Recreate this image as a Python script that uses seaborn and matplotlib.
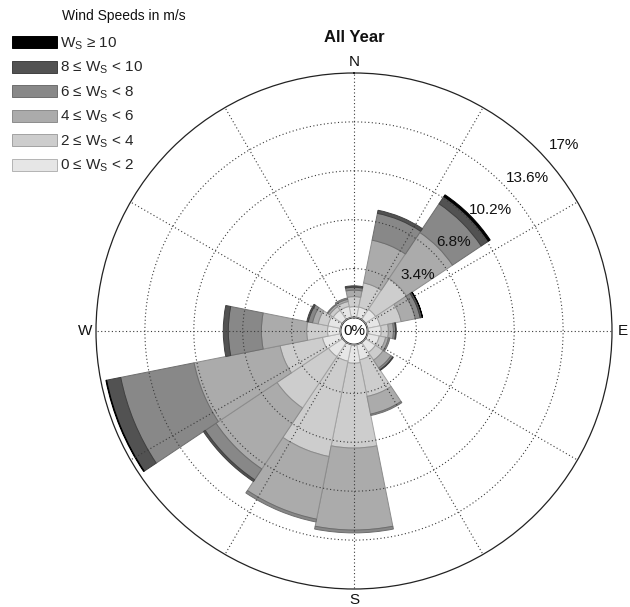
import numpy as np
import matplotlib
matplotlib.use("Agg")
import matplotlib.pyplot as plt
from matplotlib.patches import Patch, Circle
import seaborn as sns

# Sixteen compass sectors, clockwise from north
directions = ["N", "NNE", "NE", "ENE", "E", "ESE", "SE", "SSE",
              "S", "SSW", "SW", "WSW", "W", "WNW", "NW", "NNW"]

# Frequency (% of the year) per sector for each wind-speed class
ws_0_2 = [0.75, 0.76, 0.87, 0.90, 0.95, 0.85, 0.85, 1.10,
          1.30, 1.20, 1.20, 1.30, 0.90, 0.90, 0.80, 0.80]
ws_2_4 = [0.70, 1.71, 2.58, 1.50, 0.50, 0.45, 0.65, 2.60,
          5.90, 6.76, 4.30, 3.00, 1.45, 0.70, 0.30, 0.35]
ws_4_6 = [0.45, 3.03, 3.85, 1.00, 0.35, 0.20, 0.65, 1.25,
          5.70, 4.44, 5.10, 6.10, 3.15, 0.40, 0.15, 0.15]
ws_6_8 = [0.20, 1.90, 2.40, 0.35, 0.15, 0.10, 0.15, 0.10,
          0.20, 0.20, 0.90, 5.20, 2.30, 0.30, 0.05, 0.10]
ws_8_10 = [0.10, 0.22, 0.60, 0.15, 0.05, 0.00, 0.05, 0.00,
           0.00, 0.00, 0.15, 1.00, 0.35, 0.10, 0.00, 0.00]
ws_10_up = [0.00, 0.00, 0.15, 0.02, 0.00, 0.00, 0.00, 0.00,
            0.00, 0.00, 0.00, 0.05, 0.00, 0.00, 0.00, 0.00]

ws = r"W$_\mathrm{S}$"
speed_labels = [f"0 \u2264 {ws} < 2", f"2 \u2264 {ws} < 4",
                f"4 \u2264 {ws} < 6", f"6 \u2264 {ws} < 8",
                f"8 \u2264 {ws} < 10", f"{ws} \u2265 10"]
ring_values = [3.4, 6.8, 10.2, 13.6, 17.0]
ring_labels = ["3.4%", "6.8%", "10.2%", "13.6%", "17%"]
compass_labels = {"N": 0, "E": 90, "S": 180, "W": 270}
title = "All Year"
legend_title = "Wind Speeds in m/s"

sns.set_theme(style="white")
plt.rcParams["font.family"] = ["Liberation Sans", "DejaVu Sans"]
plt.rcParams["mathtext.fontset"] = "custom"
plt.rcParams["mathtext.rm"] = "Liberation Sans"
plt.rcParams["mathtext.it"] = "Liberation Sans:italic"
plt.rcParams["mathtext.bf"] = "Liberation Sans:bold"

palette = sns.color_palette(["#e6e6e6", "#cdcdcd", "#ababab",
                             "#888888", "#525252", "#000000"])
edges = sns.color_palette(["#b4b4b4", "#a2a2a2", "#8c8c8c",
                           "#6e6e6e", "#404040", "#000000"])

W, H = 630, 607
fig = plt.figure(figsize=(W / 100, H / 100), dpi=100)
cx, cy, R = 354, 331, 258
ax = fig.add_axes([(cx - R) / W, (H - cy - R) / H, 2 * R / W, 2 * R / H],
                  projection="polar")
ax.set_theta_zero_location("N")
ax.set_theta_direction(-1)
ax.set_ylim(0, 17)
hole = 0.94
ax.set_rorigin(-hole)

theta = np.deg2rad(np.arange(16) * 22.5)
width = np.deg2rad(22.5)
bins = [ws_0_2, ws_2_4, ws_4_6, ws_6_8, ws_8_10, ws_10_up]
bottom = np.zeros(16)
for vals, col, ec in zip(bins, palette, edges):
    vals = np.asarray(vals)
    nz = vals > 0
    ax.bar(theta[nz], vals[nz], width=width, bottom=bottom[nz], color=col,
           edgecolor=ec, linewidth=0.7, align="center", zorder=2)
    bottom = bottom + vals

# Grid: dotted rings and spokes drawn over the bars
ax.set_rgrids(ring_values[:-1], labels=[""] * 4)
ax.set_thetagrids(np.arange(0, 360, 30), labels=[""] * 12)
ax.set_axisbelow(False)
ax.grid(True, color="#3a3a3a", linestyle=(0, (1, 2.2)), linewidth=0.8, zorder=3)
ax.spines["polar"].set_color("#222222")
ax.spines["polar"].set_linewidth(0.9)
ax.spines["inner"].set_visible(False)
ax.tick_params(length=0, pad=0)

# Empty hub holding the 0% label
ax.add_patch(Circle((0.5, 0.5), hole / (17 + hole) * 0.5, transform=ax.transAxes,
                    facecolor="white", edgecolor="#bdbdbd", linewidth=0.8,
                    zorder=4))

for val, lab in zip(ring_values, ring_labels):
    ax.text(np.deg2rad(48.5), val + 1.55, lab, ha="center", va="center",
            fontsize=11, color="#111111", zorder=5, clip_on=False)
ax.text(0.5, 0.5, "0%", transform=ax.transAxes, ha="center", va="center",
        fontsize=11, color="#111111", zorder=5)

for lab, ang in compass_labels.items():
    ax.text(np.deg2rad(ang), 17.75, lab, ha="center", va="center",
            fontsize=11, color="#111111", clip_on=False)

fig.text(cx / W, 1 - 37 / H, title, ha="center", va="center",
         fontsize=12, fontweight="bold", color="#111111")

handles = [Patch(facecolor=c, edgecolor=e, linewidth=0.7)
           for c, e in zip(palette[::-1], edges[::-1])]
fig.legend(handles, speed_labels[::-1], loc="upper left",
           bbox_to_anchor=(12 / W, 1 - 35.5 / H), frameon=False,
           fontsize=11, handlelength=2.95, handleheight=0.85,
           labelspacing=0.53, handletextpad=0.2,
           borderpad=0, borderaxespad=0)
fig.text(62 / W, 1 - 16 / H, legend_title, ha="left", va="center",
         fontsize=10, color="#111111")

fig.savefig("out.png", dpi=100)
